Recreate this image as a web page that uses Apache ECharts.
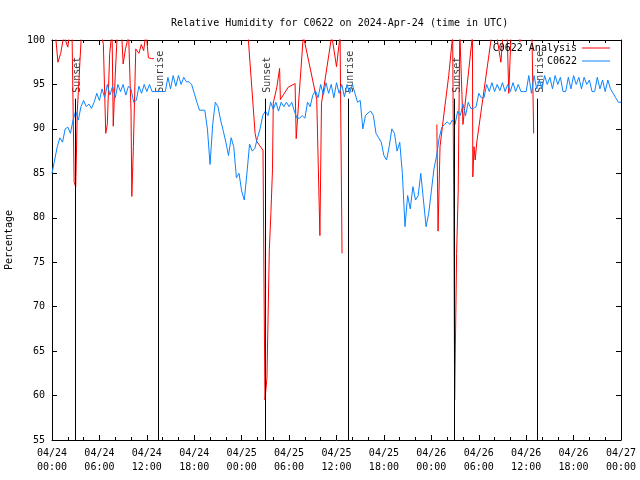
<!DOCTYPE html>
<html><head><meta charset="utf-8">
<script src="https://cdn.jsdelivr.net/npm/echarts@6/dist/echarts.min.js"></script>
<style>html,body{margin:0;padding:0;background:#fff}#c{width:640px;height:480px}</style>
</head><body><div id="c"></div>
<script>
const titleText = 'Relative Humidity for C0622 on 2024-Apr-24 (time in UTC)';
const yAxisName = 'Percentage';
const seriesNames = ['C0622 Analysis', 'C0622'];
const xStartDay = 24;
// blue: C0622 observations, every 20 minutes from 04/24 00:00 (hours 0..72)
const blueValues = [
  85.0, 86.5, 88.0,  89.0, 88.5, 90.0,  90.2, 89.5, 91.0,  92.0, 91.0, 92.5,
  93.2, 92.5, 92.8,  92.3, 93.0, 94.0,  93.2, 94.5, 93.5,  95.0, 93.8, 94.8,
  93.5, 95.0, 94.2,  95.0, 93.8, 94.8,  94.5, 93.0, 93.2,  94.8, 94.0, 95.0,
  94.2, 95.0, 94.2,  94.2, 94.2, 94.2,  94.2, 94.2, 95.8,  94.5, 96.0, 94.8,
  96.0, 95.0, 95.8,  95.3, 95.3, 95.0,  94.0, 93.0, 92.1,  92.1, 92.1, 90.0,
  86.0, 90.5, 93.0,  92.5, 91.0, 89.8,  88.5, 87.0, 89.0,  88.0, 84.5, 85.0,
  83.0, 82.0, 85.0,  88.3, 87.5, 87.8,  89.0, 90.0, 91.5,  92.0, 91.5, 93.0,
  92.2, 93.0, 92.0,  93.0, 92.5, 93.0,  92.5, 93.0, 92.0,  91.2, 91.2, 91.5,
  91.2, 93.0, 92.5,  93.8, 94.3, 93.5,  95.0, 93.8, 95.2,  94.0, 95.0, 93.5,
  95.2, 94.0, 95.0,  93.6, 95.0, 94.0,  95.0, 94.0, 93.0,  93.2, 90.0, 91.5,
  91.8, 92.0, 91.5,  89.5, 89.0, 88.5,  87.0, 86.5, 88.0,  90.0, 89.5, 87.5,
  88.5, 85.0, 79.0,  82.5, 81.0, 83.5,  82.0, 82.5, 85.0,  82.0, 79.0, 80.5,
  83.0, 85.5, 87.0,  89.0, 90.2, 90.5,  90.8, 90.5, 91.0,  90.5, 92.0, 91.5,
  92.8, 91.5, 93.0,  92.3, 92.3, 92.5,  94.0, 93.5, 93.5,  95.0, 94.2, 95.2,
  94.2, 95.0, 94.3,  95.2, 94.2, 95.0,  94.2, 95.2, 94.2,  95.0, 94.2, 94.2,
  94.2, 96.0, 94.0,  96.0, 94.5, 95.5,  94.5, 96.0, 95.0,  95.8, 94.5, 96.0,
  95.0, 95.8, 94.2,  94.2, 95.8, 94.5,  96.0, 95.0, 95.8,  94.5, 95.8, 95.0,
  95.5, 94.2, 94.2,  95.8, 94.5, 95.5,  94.2, 95.5, 94.5,  94.0, 93.5, 93.0,
  93.0
];
// red: C0622 Analysis (hours since 04/24 00:00), null = gap
const redHours = [
  0.0, 0.75, 1.1, 1.5, 2.0, 2.5, 2.8, 3.0, 3.2, 3.8, 4.5, 5.5, 6.2, 6.5, 6.8, 7.0,
  7.3, 7.6, 7.75, 8.0, 8.3, 8.8, 9.0, 9.3, 9.7, 10.0, 10.1, 10.3, 10.6, 11.0, 11.3,
  11.6, 11.9, 12.2, 12.6, 12.9,
  13.0,
  24.5, 25.7, 25.9, 26.7, 26.85, 26.95, 27.2, 27.5, 27.7, 27.9, 28.0, 28.45, 28.8,
  28.9, 29.9, 30.76, 30.9, 31.2, 31.8, 33.5, 33.9, 34.1, 35.4, 36.0, 36.45, 36.7,
  36.8,
  48.7, 48.85, 49.1, 49.5, 50.2, 50.7, 50.85, 50.95, 51.2, 51.4, 51.6, 52.0, 53.2,
  53.25, 53.4, 53.55, 53.75, 55.6, 56.0, 56.8, 57.1, 57.6, 57.8, 58.1, 58.6, 59.2,
  59.8, 60.3, 60.7, 60.95
];
const redValues = [
  105.0, 97.5, 98.5, 100.5, 99.2, 103.0, 84.0, 83.5, 92.0, 102.0, 106.0, 104.0, 101.0, 99.5, 89.5, 90.5,
  98.5, 101.0, 90.3, 96.0, 101.5, 101.0, 97.3, 99.0, 100.5, 92.0, 82.4, 88.0, 99.0, 98.5, 99.5,
  98.8, 101.0, 98.0, 97.9, 97.9,
  null,
  104.3, 89.5, 88.6, 87.6, 70.0, 59.5, 62.0, 76.4, 80.6, 85.4, 92.9, 94.7, 96.8,
  93.3, 94.7, 95.1, 88.9, 92.9, 100.5, 93.3, 78.0, 92.9, 100.5, 97.0, 100.5, 76.0,
  null,
  90.5, 78.5, 88.0, 91.0, 96.0, 100.5, 80.0, 59.5, 76.0, 83.0, 101.0, 90.5, 100.5,
  84.6, 88.0, 86.5, 88.5, 100.3, 102.0, 97.5, 101.0, 100.5, 94.0, 101.0, 102.0, 99.8,
  101.0, 100.2, 102.0, 89.5
];
const sunHours = [2.93, 13.45, 26.95, 37.48, 50.95, 61.45];
const sunNames = ['Sunset', 'Sunrise', 'Sunset', 'Sunrise', 'Sunset', 'Sunrise'];

const FONT = 'DejaVu Sans Mono';
const pad = n => (n < 10 ? '0' : '') + n;
const xLabel = h => {
  const day = xStartDay + Math.floor(h / 24);
  return '04/' + pad(day) + '\n' + pad(h % 24) + ':00';
};
const blueData = blueValues.map((v, i) => [i / 3, v]);
const redData = redHours.map((h, i) => [h, redValues[i]]);

const chart = echarts.init(document.getElementById('c'), null, {renderer: 'canvas'});
const axisLineStyle = {lineStyle: {color: '#000', width: 1}};
const xCommon = {
  type: 'value', min: 0, max: 72, interval: 6,
  axisLine: Object.assign({show: true, onZero: false}, axisLineStyle),
  axisTick: {show: true, inside: true, length: 5, lineStyle: {color: '#000'}},
  minorTick: {show: true, splitNumber: 3, length: 3, lineStyle: {color: '#000'}},
  splitLine: {show: false}
};
const yCommon = {
  type: 'value', min: 55, max: 100, interval: 5,
  axisLine: Object.assign({show: true, onZero: false}, axisLineStyle),
  axisTick: {show: true, inside: true, length: 5, lineStyle: {color: '#000'}},
  splitLine: {show: false}
};
chart.setOption({
  animation: false,
  backgroundColor: '#fff',
  title: {
    text: titleText, left: 166, top: 13,
    textStyle: {fontFamily: FONT, fontSize: 10, fontWeight: 'normal', color: '#000'}
  },
  grid: {left: 52, right: 19, top: 40, bottom: 40, containLabel: false, outerBoundsMode: 'none'},
  legend: [
    {data: [seriesNames[0]], right: 30, top: 43, orient: 'vertical', align: 'right', padding: 0,
     icon: 'rect', itemWidth: 28, itemHeight: 1,
     textStyle: {fontFamily: FONT, fontSize: 10, color: '#000'}},
    {data: [seriesNames[1]], right: 30, top: 56, orient: 'vertical', align: 'right', padding: 0,
     icon: 'rect', itemWidth: 28, itemHeight: 1,
     textStyle: {fontFamily: FONT, fontSize: 10, color: '#000'}}
  ],
  xAxis: [
    Object.assign({}, xCommon, {position: 'bottom',
      axisLabel: {show: true, formatter: xLabel, margin: 6, lineHeight: 14,
        fontFamily: FONT, fontSize: 10, color: '#000', showMinLabel: true, showMaxLabel: true}}),
    Object.assign({}, xCommon, {position: 'top', axisLabel: {show: false}})
  ],
  yAxis: [
    Object.assign({}, yCommon, {position: 'left', name: yAxisName, nameLocation: 'middle',
      nameGap: 38, nameRotate: 90,
      nameTextStyle: {fontFamily: FONT, fontSize: 10, color: '#000'},
      axisLabel: {show: true, margin: 7, fontFamily: FONT, fontSize: 10, color: '#000'}}),
    Object.assign({}, yCommon, {position: 'right', axisLabel: {show: false}})
  ],
  series: [
    {
      name: 'sun', type: 'scatter', xAxisIndex: 0, yAxisIndex: 0,
      symbolSize: 1, itemStyle: {color: 'rgba(0,0,0,0)'},
      silent: true,
      data: sunHours.map((h, i) => [h, 94.0, sunNames[i]]),
      label: {show: true, formatter: p => p.value[2], rotate: 90, position: [3, 0],
        align: 'left', verticalAlign: 'middle',
        fontFamily: FONT, fontSize: 10, color: '#000'},
      markLine: {
        silent: true, symbol: ['none', 'none'], animation: false,
        label: {show: false},
        lineStyle: {color: '#000', width: 1, type: 'solid'},
        data: sunHours.map(h => [{coord: [h, 55]}, {coord: [h, 93.4]}])
      },
      z: 1
    },
    {
      name: seriesNames[0], type: 'line', data: redData, showSymbol: false, symbol: 'none',
      connectNulls: false, clip: true,
      lineStyle: {color: '#ff0000', width: 1}, itemStyle: {color: '#ff0000'}, z: 2
    },
    {
      name: seriesNames[1], type: 'line', data: blueData, showSymbol: false, symbol: 'none',
      clip: true,
      lineStyle: {color: '#0a84ff', width: 1}, itemStyle: {color: '#0a84ff'}, z: 3
    }
  ]
});
</script>
</body></html>
